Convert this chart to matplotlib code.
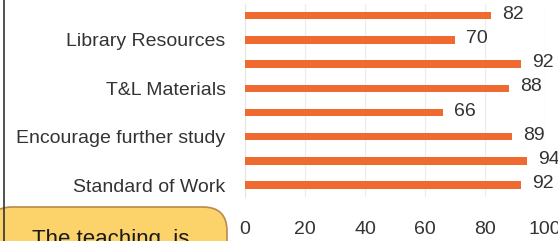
import numpy as np
import matplotlib.pyplot as plt
from matplotlib.patches import FancyBboxPatch

plt.rcParams['font.family'] = ['Liberation Sans', 'DejaVu Sans']

# bars from top to bottom, only every other category label is shown
categories = ['', 'Library Resources', '', 'T&L Materials',
              '', 'Encourage further study', '', 'Standard of Work']
values = [82, 70, 92, 88, 66, 89, 94, 92]
x_ticks = [0, 20, 40, 60, 80, 100]
callout_text = 'The teaching  is'

bar_color = '#EE6A30'
text_color = '#333333'

fig = plt.figure(figsize=(5.58, 2.41), dpi=100)
fig.patch.set_facecolor('white')

ax = fig.add_axes([0.439, 0.182, 0.538, 0.803])
index = np.arange(len(values))
bars = ax.barh(index, values, height=0.31, color=bar_color, zorder=3)

for i, rect in enumerate(bars):
    ax.annotate(str(values[i]),
                xy=(rect.get_width(), rect.get_y() + rect.get_height() / 2),
                xytext=(8, 1), textcoords='offset points',
                ha='left', va='center', fontsize=14, color=text_color,
                annotation_clip=False)

ax.set_xlim(0, 100)
ax.set_ylim(len(values) - 0.5, -0.5)
ax.set_xticks(x_ticks)
ax.set_yticks(index)
ax.set_yticklabels(categories)
ax.tick_params(axis='x', length=0, pad=17, labelsize=14, labelcolor=text_color)
ax.tick_params(axis='y', length=0, pad=14, labelsize=14, labelcolor=text_color)

for s in ['top', 'right', 'bottom']:
    ax.spines[s].set_visible(False)
ax.spines['left'].set_color('#e6e6e6')
ax.spines['left'].set_linewidth(0.8)
ax.grid(axis='x', color='#ececec', linewidth=0.8, zorder=0)
ax.set_axisbelow(True)

# overlay in pixel units for the border line and the callout bubble
ov = fig.add_axes([0, 0, 1, 1], zorder=5)
ov.set_xlim(0, 558)
ov.set_ylim(241, 0)
ov.axis('off')
ov.patch.set_alpha(0)
ov.plot([4, 4], [0, 241], color='#333333', linewidth=1.2)
box = FancyBboxPatch((-12, 207), 239, 70,
                     boxstyle='round,pad=0,rounding_size=24',
                     facecolor='#FCD26A', edgecolor='#B98A4E', linewidth=1.2)
ov.add_patch(box)
ov.text(32, 229, callout_text, fontsize=16, color='#1a1a1a', va='top', ha='left')

plt.savefig('out.png', dpi=100)
